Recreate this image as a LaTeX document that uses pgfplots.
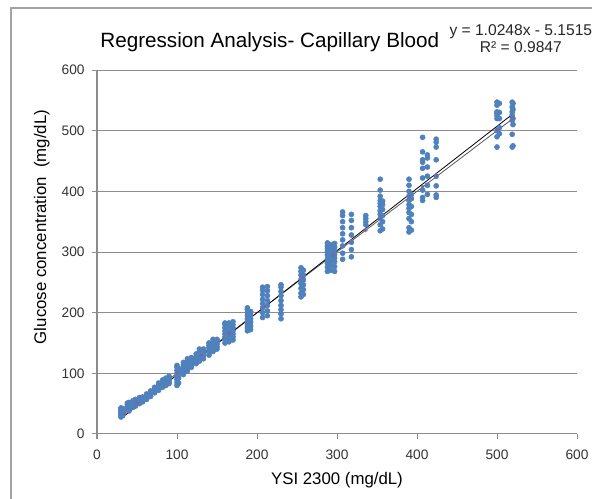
\documentclass[border=0pt]{standalone}
\usepackage{pgfplots}
\pgfplotsset{compat=1.18}
\usepackage{fontspec}
\setmainfont{Liberation Sans}
\definecolor{ptblue}{HTML}{4F81BD}
\definecolor{ptpurple}{HTML}{8064A2}
\definecolor{gridgray}{HTML}{8C8C8C}
\begin{document}
\begin{tikzpicture}
\path[use as bounding box] (-72.75pt,-48.75pt) rectangle (371.25pt,325.5pt);
\draw[gridgray!80, line width=1.1pt] (-64.5pt,-60pt) -- (-64.5pt,319.5pt) -- (380pt,319.5pt);
\begin{axis}[
  at={(0,0)}, anchor=south west,
  scale only axis, width=360pt, height=273pt,
  xmin=0, xmax=600, ymin=0, ymax=600,
  xtick={0,100,...,600}, ytick={0,100,...,600},
  axis lines=left, axis line style={-, gridgray, line width=0.75pt},
  ymajorgrids, grid style={gridgray, line width=0.75pt},
  tick align=outside, major tick length=3.75pt,
  tick style={gridgray, line width=0.75pt},
  /pgf/number format/assume math mode=true,
  ticklabel style={font=\fontsize{10.3}{12}\selectfont, text=black!80},
  xticklabel style={yshift=-5pt},
  yticklabel style={xshift=-2pt},
  xlabel={YSI 2300 (mg/dL)},
  ylabel={Glucose concentration\ \ (mg/dL)},
  label style={font=\fontsize{12.6}{14}\selectfont},
  xlabel style={at={(0.5,-0.126)}, anchor=center},
  ylabel style={at={(-0.115,0.569)}, anchor=center},
  title={Regression Analysis- Capillary Blood},
  title style={at={(0.36,1.055)}, anchor=center, font=\fontsize{15.5}{18}\selectfont},
  clip=false,
]
\addplot[only marks, mark=*, mark size=1.9pt, color=ptblue, mark options={draw=ptblue, fill=ptblue}] coordinates {
(30,28)(30,31)(30,33)(30,35)(30,37)(30,39)(30,41)(30,43)
(32,30)(32,34)(32,36)(32,38)(32,40)(32,42)
(38,40)(38,43)(38,46)(38,49)(38,51)
(40,38)(40,42)(40,45)(40,48)(40,50)(40,52)
(45,44)(45,47)(45,50)(45,53)(45,55)
(48,46)(48,49)(48,52)(48,54)(48,57)
(53,50)(53,53)(53,55)(53,58)(53,60)
(57,53)(57,56)(57,59)(57,61)
(62,57)(62,60)(62,63)(62,66)
(67,62)(67,65)(67,68)(67,71)
(72,68)(72,71)(72,74)(72,77)
(77,72)(77,75)(77,78)(77,81)(77,84)
(82,77)(82,80)(82,83)(82,86)(82,89)
(86,80)(86,83)(86,86)(86,89)(86,92)
(90,83)(90,86)(90,89)(90,92)(90,95)
(100,80)(100,85)(100,90)(100,95)(100,100)(100,105)(100,110)(100,113)
(102,84)(102,92)(102,98)(102,104)(102,108)
(108,98)(108,102)(108,106)(108,110)(108,114)(108,118)
(113,104)(113,108)(113,112)(113,116)(113,120)(113,124)
(118,110)(118,114)(118,118)(118,122)(118,126)
(124,116)(124,120)(124,124)(124,128)(124,132)
(128,120)(128,124)(128,128)(128,132)(128,136)(128,140)
(133,124)(133,128)(133,132)(133,136)(133,140)
(140,130)(140,134)(140,138)(140,142)(140,146)(140,150)
(145,136)(145,140)(145,144)(145,148)(145,152)(145,156)
(150,140)(150,144)(150,148)(150,152)(150,156)
(160,150)(160,155)(160,160)(160,165)(160,170)(160,175)(160,180)(160,183)
(165,152)(165,158)(165,163)(165,168)(165,173)(165,178)(165,183)
(170,155)(170,160)(170,165)(170,170)(170,175)(170,180)(170,185)
(188,170)(188,175)(188,180)(188,185)(188,190)(188,195)(188,200)(188,205)(188,208)
(192,172)(192,178)(192,184)(192,190)(192,196)(192,202)
(207,192)(207,200)(207,208)(207,215)(207,222)(207,230)(207,237)(207,242)
(213,195)(213,203)(213,212)(213,220)(213,228)(213,236)(213,243)
(230,190)(230,198)(230,205)(230,212)(230,220)(230,228)(230,235)(230,242)(230,246)
(255,226)(255,232)(255,240)(255,248)(255,255)(255,262)(255,268)(255,274)
(258,230)(258,238)(258,246)(258,254)(258,262)(258,270)
(288,268)(288,275)(288,282)(288,288)(288,295)(288,300)(288,305)(288,310)(288,315)
(292,270)(292,278)(292,285)(292,292)(292,298)(292,304)(292,312)
(297,268)(297,276)(297,284)(297,290)(297,296)(297,302)(297,308)(297,314)
(307,288)(307,298)(307,310)(307,320)(307,330)(307,340)(307,350)(307,360)(307,366)
(318,292)(318,304)(318,316)(318,328)(318,340)(318,352)(318,362)
(336,345)(336,350)(336,355)(336,360)
(354,335)(354,345)(354,355)(354,362)(354,368)(354,375)(354,380)(354,385)(354,392)(354,402)(354,420)
(357,338)(357,350)(357,360)(357,370)(357,378)(357,384)
(390,333)(390,340)(390,355)(390,365)(390,372)(390,378)(390,385)(390,392)(390,400)(390,410)(390,420)
(393,336)(393,350)(393,362)(393,375)(393,388)(393,395)
(407,385)(407,390)(407,402)(407,422)(407,438)(407,448)(407,452)(407,465)(407,489)
(413,395)(413,410)(413,425)(413,440)(413,455)(413,460)
(424,390)(424,394)(424,409)(424,425)(424,452)(424,473)(424,481)(424,486)
(500,473)(500,490)(500,500)(500,520)(500,525)(500,529)(500,531)(500,542)(500,547)
(503,495)(503,505)(503,520)(503,530)(503,545)
(519,473)(519,494)(519,517)(519,522)(519,526)(519,531)(519,539)(519,547)
(520,475)(520,510)(520,520)(520,535)(520,545)
};
\addplot[only marks, mark=*, mark size=1.3pt, color=ptpurple, mark options={fill=ptpurple, draw=ptpurple}, opacity=0.8] coordinates {
(35,34)(50,51)(100,101)(130,130)(165,166)(210,210)(258,258)(295,295)(318,318)(336,336)(354,356)(390,392)(407,408)(424,426)(500,502)(519,521)
};
\addplot[gray!70!black, line width=0.6pt] coordinates {(30,30)(520,520)};
\addplot[black, line width=0.6pt] coordinates {(30,25.59)(520,527.74)};
\node[align=center, font=\fontsize{11.7}{13}\selectfont, text=black!85, inner sep=0pt] at (rel axis cs:0.883,1.0865) {y = 1.0248x - 5.1515\\[0pt] R² = 0.9847};
\end{axis}
\end{tikzpicture}
\end{document}
